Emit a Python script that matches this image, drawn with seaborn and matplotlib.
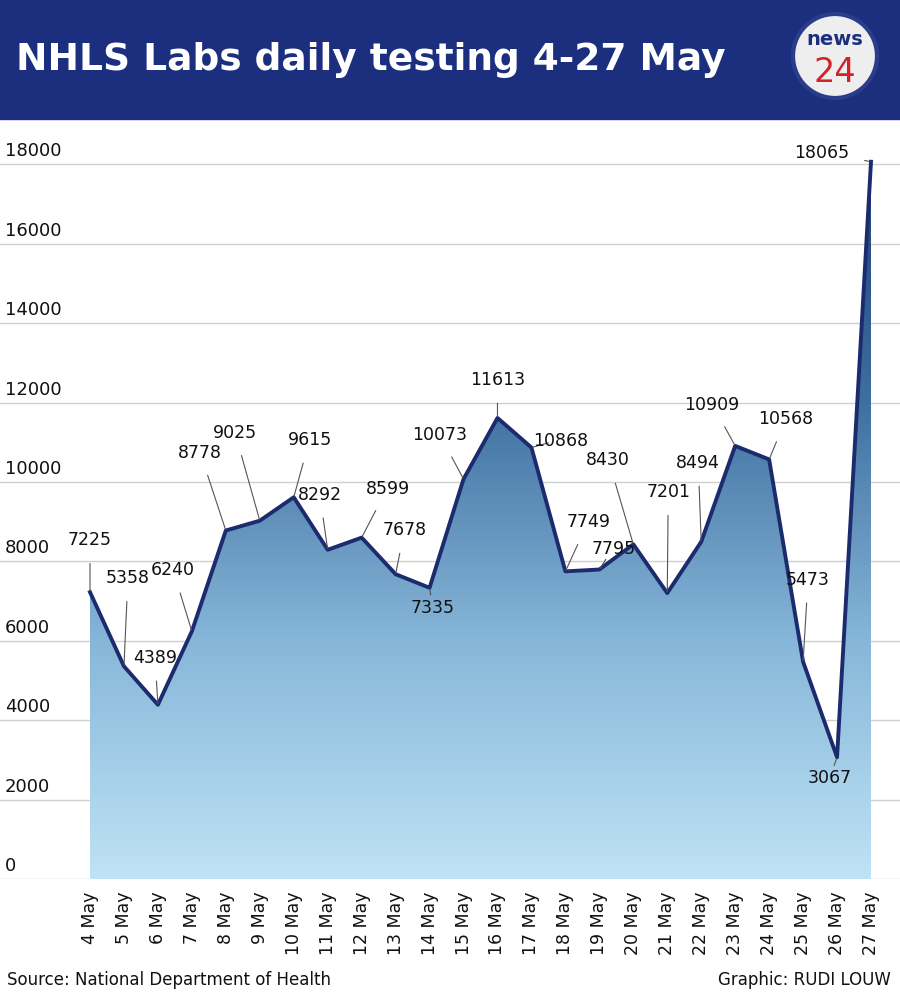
import numpy as np
import pandas as pd
import seaborn as sns
import matplotlib
matplotlib.use('Agg')
import matplotlib.pyplot as plt
from matplotlib.colors import LinearSegmentedColormap
from matplotlib.patches import Ellipse

# data
days = ['4 May', '5 May', '6 May', '7 May', '8 May', '9 May', '10 May', '11 May',
        '12 May', '13 May', '14 May', '15 May', '16 May', '17 May', '18 May', '19 May',
        '20 May', '21 May', '22 May', '23 May', '24 May', '25 May', '26 May', '27 May']
tests = [7225, 5358, 4389, 6240, 8778, 9025, 9615, 8292, 8599, 7678, 7335, 10073,
         11613, 10868, 7749, 7795, 8430, 7201, 8494, 10909, 10568, 5473, 3067, 18065]
y_ticks = [0, 2000, 4000, 6000, 8000, 10000, 12000, 14000, 16000, 18000]

# label offsets in pixels (layout only)
offsets = [(0, 53), (4, 89), (-3, 48), (-19, 62), (-26, 79), (-25, 89), (16, 58),
           (-8, 56), (26, 50), (9, 45), (3, -19), (-24, 45), (0, 39), (29, 8),
           (23, 50), (14, 22), (-25, 85), (1, 102), (-3, 80), (-23, 42), (17, 41),
           (5, 83), (-7, -20), (-49, 10)]

df = pd.DataFrame({'day': days, 'tests': tests, 'i': range(len(days))})

NAVY = '#1b2f7e'
LINE = '#1c2b6e'

fig = plt.figure(figsize=(9, 10.03), dpi=100)
ax = fig.add_axes([0, 0.1226, 1, 0.880 - 0.1226])

ppx = (871 - 90) / 23
ax.set_xlim(-90 / ppx, 23 + 29 / ppx)
ax.set_ylim(0, 18000 + 45 * 18000 / 715)

for t in y_ticks:
    ax.axhline(t, color='#d0d0d0', lw=1, zorder=0)
    ax.annotate(str(t), xy=(0, t), xycoords=('axes fraction', 'data'),
                xytext=(5, 14), textcoords='offset pixels', fontsize=13,
                ha='left', va='center', color='#111111')

# gradient fill
fill = ax.fill_between(df['i'], df['tests'], 0, color='none')
cmap = LinearSegmentedColormap.from_list('g', ['#bfe3f6', '#86b6d8', '#3f6fa0', '#1d3f7c'])
grad = np.linspace(0, 1, 256).reshape(-1, 1)
img = ax.imshow(grad, cmap=cmap, aspect='auto', origin='lower',
                extent=[0, 23, 0, 18065], zorder=1)
img.set_clip_path(fill.get_paths()[0], transform=ax.transData)

sns.lineplot(data=df, x='i', y='tests', color=LINE, lw=2.8, ax=ax, zorder=3)

for i, (v, off) in enumerate(zip(tests, offsets)):
    ax.annotate(str(v), xy=(i, v), xytext=off, textcoords='offset pixels',
                fontsize=12.5, ha='center', va='center', color='#111111', zorder=4,
                arrowprops=dict(arrowstyle='-', color='#555555', lw=0.8,
                                shrinkA=9, shrinkB=1))

ax.set_xticks(range(len(days)))
ax.set_xticklabels(days, rotation=90, fontsize=12.5, color='#111111')
ax.tick_params(axis='x', length=0, pad=8)
ax.set_yticks([])
ax.set_xlabel('')
ax.set_ylabel('')
for s in ax.spines.values():
    s.set_visible(False)

# header
fig.patches.append(plt.Rectangle((0, 0.880), 1, 0.12, transform=fig.transFigure,
                                 color=NAVY, zorder=0))
fig.text(0.018, 0.940, 'NHLS Labs daily testing 4-27 May', color='white',
         fontsize=27, fontweight='bold', ha='left', va='center')
lx, ly = 835 / 900, 1 - 57 / 1003
fig.patches.append(Ellipse((lx, ly), 84 / 900, 84 / 1003, transform=fig.transFigure,
                           facecolor='#eeeeee', edgecolor='#2a3c8a', lw=3))
fig.text(lx, ly + 0.017, 'news', color=NAVY, fontsize=14, fontweight='bold',
         ha='center', va='center')
fig.text(lx, ly - 0.015, '24', color='#d2232a', fontsize=24, ha='center', va='center')

fig.text(0.008, 0.018, 'Source: National Department of Health', fontsize=12, color='#111111')
fig.text(0.99, 0.018, 'Graphic: RUDI LOUW', fontsize=12, color='#111111', ha='right')

fig.savefig('out.png', dpi=100)
